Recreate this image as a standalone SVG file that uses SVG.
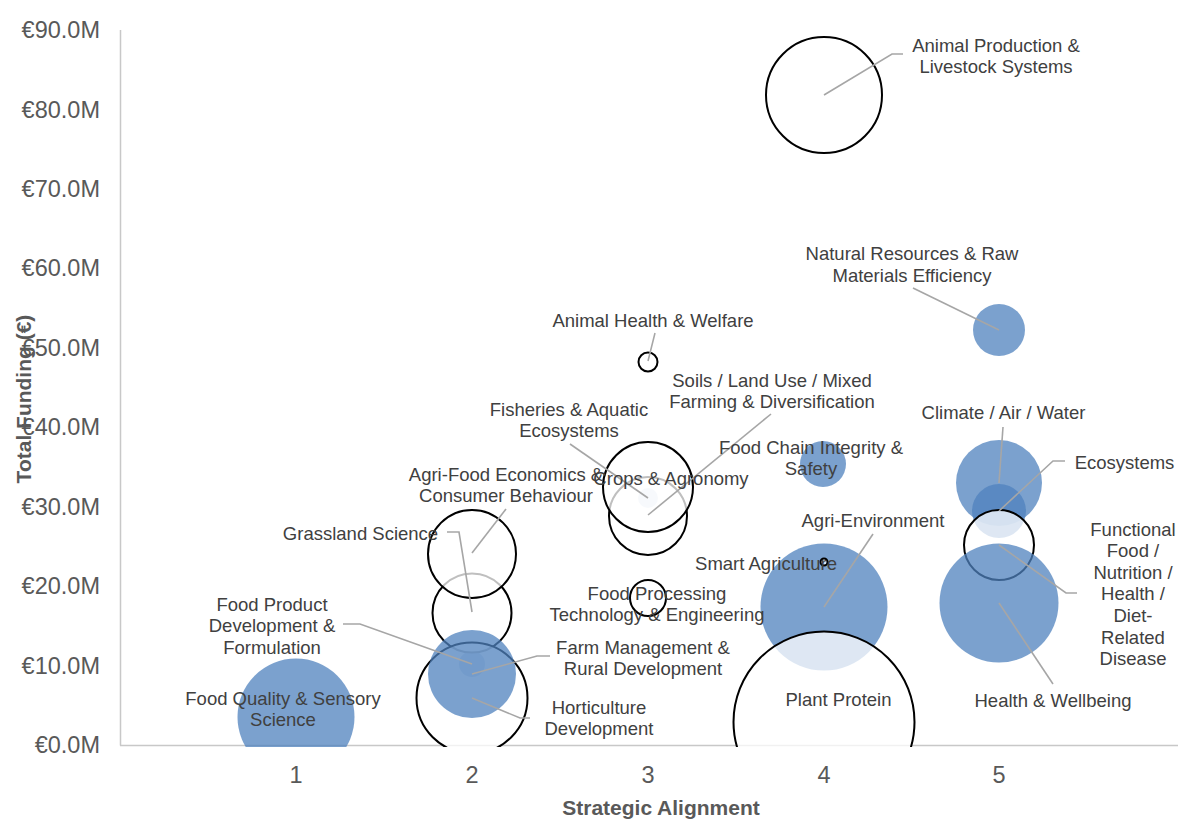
<svg xmlns="http://www.w3.org/2000/svg" width="1178" height="819" viewBox="0 0 1178 819">
<style>
.axis{stroke:#c8c8c8;stroke-width:1.5;fill:none}
.blue{fill:#4f81bd;fill-opacity:0.75;stroke:none}
.white{fill:#ffffff;fill-opacity:0.75;stroke:#000000;stroke-width:2}
.lead{stroke:#a6a6a6;stroke-width:1.6;fill:none}
.tick{font-family:"Liberation Sans",Arial,sans-serif;font-size:23.5px;fill:#595959}
.lbl{font-family:"Liberation Sans",Arial,sans-serif;font-size:18.5px;fill:#404040;text-anchor:middle}
.title{font-family:"Liberation Sans",Arial,sans-serif;font-size:21px;font-weight:bold;fill:#595959;text-anchor:middle}
</style>
<defs>
<clipPath id="plot"><rect x="120" y="0" width="1058" height="747"/></clipPath>
</defs>
<rect width="1178" height="819" fill="#ffffff"/>
<g id="axes">
<line class="axis" x1="120.5" y1="30" x2="120.5" y2="745.5"/>
<line class="axis" x1="120" y1="745.5" x2="1178" y2="745.5"/>
<g class="tick" text-anchor="end">
<text x="100" y="38">€90.0M</text>
<text x="100" y="117.5">€80.0M</text>
<text x="100" y="196.9">€70.0M</text>
<text x="100" y="276.4">€60.0M</text>
<text x="100" y="355.8">€50.0M</text>
<text x="100" y="435.2">€40.0M</text>
<text x="100" y="514.7">€30.0M</text>
<text x="100" y="594.1">€20.0M</text>
<text x="100" y="673.6">€10.0M</text>
<text x="100" y="753">€0.0M</text>
</g>
<g class="tick" text-anchor="middle">
<text x="296" y="783">1</text>
<text x="472" y="783">2</text>
<text x="648" y="783">3</text>
<text x="824" y="783">4</text>
<text x="999" y="783">5</text>
</g>
<text class="title" x="661" y="815">Strategic Alignment</text>
<text class="title" x="31" y="399" transform="rotate(-90 31 399)">Total Funding (€)</text>
</g>
<g id="bubbles" clip-path="url(#plot)">
<g id="food-quality"><circle class="blue" cx="296" cy="717" r="58.5"/></g>
<g id="food-product"><circle class="blue" cx="472" cy="664" r="13"/></g>
<g id="grassland"><circle class="white" cx="472" cy="613" r="39.5"/></g>
<g id="agri-food-economics"><circle class="white" cx="472" cy="554" r="44"/></g>
<g id="horticulture"><circle class="white" cx="472" cy="698" r="55.5"/></g>
<g id="farm-management"><circle class="blue" cx="472" cy="674" r="44"/></g>
<g id="fisheries"><circle class="blue" cx="648" cy="498" r="10"/></g>
<g id="soils"><circle class="white" cx="648" cy="516" r="39"/></g>
<g id="crops"><circle class="white" cx="648" cy="487" r="45"/></g>
<g id="animal-health"><circle class="white" cx="648" cy="362" r="9.5"/></g>
<g id="food-processing"><circle class="white" cx="648" cy="598" r="18"/></g>
<g id="agri-environment"><circle class="blue" cx="824" cy="607" r="63.5"/></g>
<g id="plant-protein"><circle class="white" cx="824" cy="722" r="90.5"/></g>
<g id="smart-agriculture"><circle class="white" cx="824" cy="562" r="3.5"/></g>
<g id="food-chain"><circle class="blue" cx="823" cy="464" r="23"/></g>
<g id="animal-production"><circle class="white" cx="824" cy="95" r="58"/></g>
<g id="climate"><circle class="blue" cx="999" cy="483" r="43"/></g>
<g id="ecosystems"><circle class="blue" cx="999" cy="511" r="27"/></g>
<g id="functional-food"><circle class="white" cx="999" cy="545" r="35"/></g>
<g id="health-wellbeing"><circle class="blue" cx="999" cy="603" r="59.5"/></g>
<g id="natural-resources"><circle class="blue" cx="999" cy="330" r="26"/></g>
</g>
<g id="connectors">
<polyline class="lead" points="824,95 892,54 903,54"/>
<polyline class="lead" points="913,288 999,330"/>
<polyline class="lead" points="655,333 648,361"/>
<polyline class="lead" points="771,414 648,515"/>
<polyline class="lead" points="570,444 648,498"/>
<polyline class="lead" points="506,509 472,553"/>
<polyline class="lead" points="447,532 459,532 472,612"/>
<polyline class="lead" points="343,624 360,624 472,664"/>
<polyline class="lead" points="472,674 537,656 550,656"/>
<polyline class="lead" points="472,698 520,718 530,718"/>
<polyline class="lead" points="1003,427 999,483"/>
<polyline class="lead" points="1065,461 1053,461 999,511"/>
<polyline class="lead" points="999,545 1066,593 1077,593"/>
<polyline class="lead" points="999,603 1053,684"/>
<polyline class="lead" points="873,534 824,607"/>
</g>
<g id="labels" class="lbl">
<text id="label-animal-production"><tspan x="996" y="51.5">Animal Production &amp;</tspan><tspan x="996" y="72.5">Livestock Systems</tspan></text>
<text id="label-natural-resources"><tspan x="912" y="259.5">Natural Resources &amp; Raw</tspan><tspan x="912" y="281.5">Materials Efficiency</tspan></text>
<text id="label-animal-health" x="653" y="326.5">Animal Health &amp; Welfare</text>
<text id="label-soils"><tspan x="772" y="386.5">Soils / Land Use / Mixed</tspan><tspan x="772" y="407.5">Farming &amp; Diversification</tspan></text>
<text id="label-fisheries"><tspan x="569" y="415.5">Fisheries &amp; Aquatic</tspan><tspan x="569" y="436.5">Ecosystems</tspan></text>
<text id="label-agri-food"><tspan x="506" y="480.5">Agri-Food Economics &amp;</tspan><tspan x="506" y="501.5">Consumer Behaviour</tspan></text>
<text id="label-crops" x="671" y="484.5">Crops &amp; Agronomy</text>
<text id="label-grassland" x="360.5" y="539.5">Grassland Science</text>
<text id="label-food-product"><tspan x="272" y="610.5">Food Product</tspan><tspan x="272" y="632">Development &amp;</tspan><tspan x="272" y="653.5">Formulation</tspan></text>
<text id="label-food-quality"><tspan x="283" y="704.5">Food Quality &amp; Sensory</tspan><tspan x="283" y="725.5">Science</tspan></text>
<text id="label-farm-management"><tspan x="643" y="653.5">Farm Management &amp;</tspan><tspan x="643" y="674.5">Rural Development</tspan></text>
<text id="label-horticulture"><tspan x="599" y="713.5">Horticulture</tspan><tspan x="599" y="735">Development</tspan></text>
<text id="label-food-processing"><tspan x="657" y="599.5">Food Processing</tspan><tspan x="657" y="621">Technology &amp; Engineering</tspan></text>
<text id="label-food-chain"><tspan x="811" y="453.5">Food Chain Integrity &amp;</tspan><tspan x="811" y="474.5">Safety</tspan></text>
<text id="label-climate" x="1003.5" y="418.5">Climate / Air / Water</text>
<text id="label-ecosystems" x="1124.5" y="468.5">Ecosystems</text>
<text id="label-functional-food"><tspan x="1133" y="535.5">Functional</tspan><tspan x="1133" y="557">Food /</tspan><tspan x="1133" y="578.5">Nutrition /</tspan><tspan x="1133" y="600">Health /</tspan><tspan x="1133" y="622">Diet-</tspan><tspan x="1133" y="643.5">Related</tspan><tspan x="1133" y="665">Disease</tspan></text>
<text id="label-agri-environment" x="873" y="526.5">Agri-Environment</text>
<text id="label-smart-agriculture" x="766" y="569.5">Smart Agriculture</text>
<text id="label-plant-protein" x="838.5" y="705.5">Plant Protein</text>
<text id="label-health-wellbeing" x="1053" y="706.5">Health &amp; Wellbeing</text>
</g>
</svg>
